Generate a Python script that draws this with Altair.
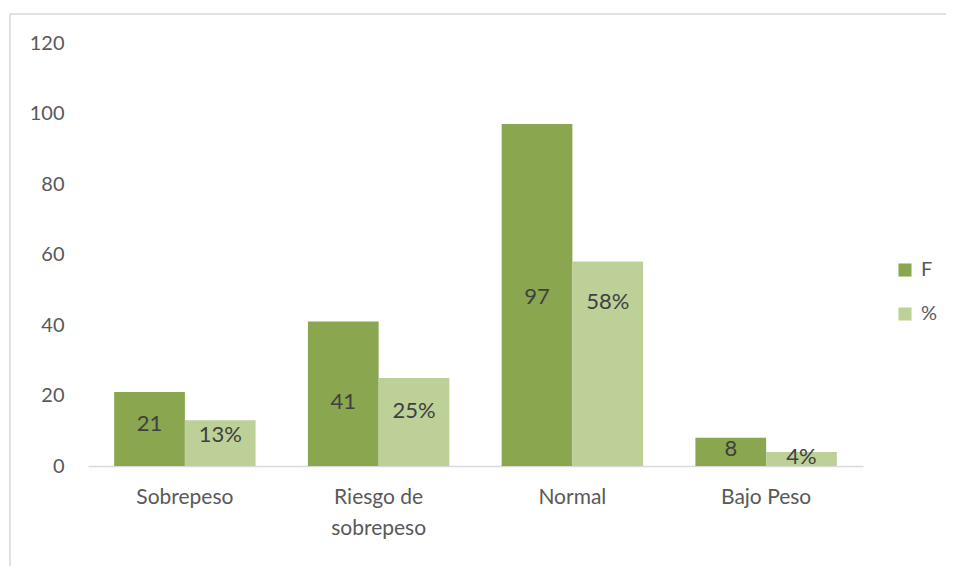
import altair as alt
import pandas as pd

categories = ["Sobrepeso", "Riesgo de sobrepeso", "Normal", "Bajo Peso"]
series_names = ["F", "%"]
f_values = [21, 41, 97, 8]
pct_values = [13, 25, 58, 4]
f_labels = ["21", "41", "97", "8"]
pct_labels = ["13%", "25%", "58%", "4%"]
# where each data label sits (in axis units)
f_label_at = [11.8, 18.2, 47.9, 4.8]
pct_label_at = [8.8, 15.5, 46.5, 2.5]
y_ticks = [0, 20, 40, 60, 80, 100, 120]

rows = []
for c, v, l, p in zip(categories, f_values, f_labels, f_label_at):
    rows.append({"cat": c, "serie": "F", "value": v, "label": l, "pos": p})
for c, v, l, p in zip(categories, pct_values, pct_labels, pct_label_at):
    rows.append({"cat": c, "serie": "%", "value": v, "label": l, "pos": p})
df = pd.DataFrame(rows)

FONT = "Lato"
colors = ["#8AA64E", "#BCD098"]

x_enc = alt.X(
    "cat:N",
    sort=categories,
    scale=alt.Scale(paddingInner=0.27, paddingOuter=0.135),
    axis=alt.Axis(
        title=None,
        labelAngle=0,
        labelFont=FONT,
        labelFontSize=21,
        labelColor="#595959",
        labelPadding=20,
        labelLineHeight=31,
        labelExpr="datum.label == 'Riesgo de sobrepeso' ? ['Riesgo de', 'sobrepeso'] : datum.label",
        ticks=False,
        domainColor="#D9D9D9",
        domainWidth=1.5,
    ),
)
xoff = alt.XOffset("serie:N", sort=series_names, scale=alt.Scale(paddingInner=0))

bars = alt.Chart(df).mark_bar().encode(
    x=x_enc,
    xOffset=xoff,
    y=alt.Y(
        "value:Q",
        scale=alt.Scale(domain=[0, 120], nice=False),
        axis=alt.Axis(
            title=None,
            values=y_ticks,
            grid=False,
            domain=False,
            ticks=False,
            labelFont=FONT,
            labelFontSize=20,
            labelColor="#595959",
            labelPadding=24,
        ),
    ),
    color=alt.Color(
        "serie:N",
        sort=series_names,
        scale=alt.Scale(domain=series_names, range=colors),
        legend=alt.Legend(
            title=None,
            orient="none",
            legendX=807,
            legendY=217,
            symbolType="square",
            symbolSize=170,
            symbolStrokeWidth=0,
            labelFont=FONT,
            labelFontSize=20,
            labelColor="#595959",
            rowPadding=24,
            labelOffset=6,
        ),
    ),
)

texts = alt.Chart(df).mark_text(
    font=FONT, fontSize=22, color="#404040", baseline="middle"
).encode(
    x=alt.X("cat:N", sort=categories),
    xOffset=alt.XOffset("serie:N", sort=series_names),
    y=alt.Y("pos:Q"),
    text="label:N",
)

border = alt.Chart(alt.Data(values=[{"a": 1}])).mark_rect(
    fill=None, stroke="#D9D9D9", strokeWidth=1.5, clip=False
).encode(
    x=alt.value(-78), x2=alt.value(900), y=alt.value(-29), y2=alt.value(560)
)

chart = alt.layer(border, bars, texts).properties(
    width=775,
    height=423,
    padding={"left": 80, "top": 35, "right": 83, "bottom": 100},
    autosize=alt.AutoSizeParams(type="none"),
    background="white",
).configure_view(strokeWidth=0, stroke="transparent")

chart.save("out.html", embed_options={"renderer": "svg", "actions": False})
